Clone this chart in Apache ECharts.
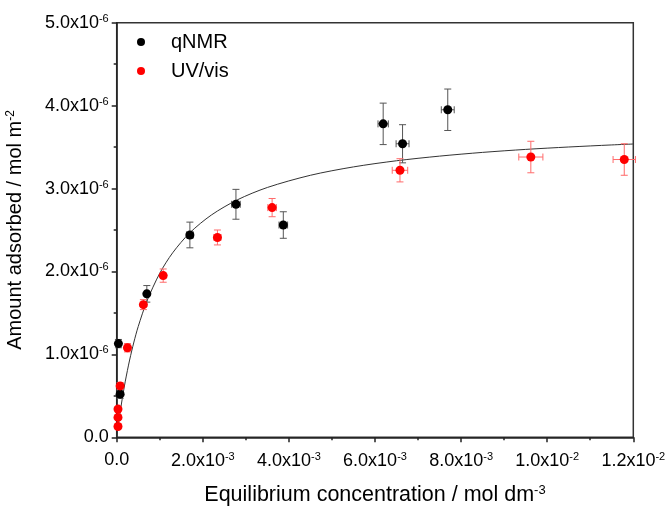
<!DOCTYPE html>
<html>
<head>
<meta charset="utf-8">
<title>Adsorption isotherm</title>
<script src="https://cdn.jsdelivr.net/npm/echarts@6/dist/echarts.min.js"></script>
<style>
  html, body { margin: 0; padding: 0; background: #fff; }
  #chart { width: 665px; height: 506px; }
</style>
</head>
<body>
<div id="chart"></div>
<script>
// x in units of 1e-3 mol dm^-3, y in units of 1e-6 mol m^-2
const nmrX = [0.04, 0.08, 0.70, 1.70, 2.77, 3.87, 6.19, 6.64, 7.69]
const nmrY = [1.13, 0.52, 1.73, 2.44, 2.81, 2.56, 3.78, 3.54, 3.95]
const nmrXErr = [0.02, 0.02, 0.05, 0.08, 0.10, 0.10, 0.12, 0.15, 0.15]
const nmrYErr = [0.05, 0.05, 0.10, 0.155, 0.18, 0.16, 0.25, 0.23, 0.25]

const uvX = [0.03, 0.03, 0.03, 0.08, 0.25, 0.62, 1.08, 2.34, 3.61, 6.58, 9.62, 11.79]
const uvY = [0.13, 0.24, 0.34, 0.62, 1.08, 1.60, 1.95, 2.41, 2.77, 3.22, 3.38, 3.35]
const uvXErr = [0, 0, 0, 0, 0.02, 0.05, 0.06, 0.08, 0.10, 0.18, 0.28, 0.26]
const uvYErr = [0.02, 0.02, 0.03, 0.04, 0.05, 0.06, 0.08, 0.09, 0.11, 0.14, 0.19, 0.19]

// fitted curve
const fitX = [0, 0.02, 0.05, 0.1, 0.15, 0.2, 0.3, 0.4, 0.5, 0.7, 1.0, 1.3, 1.7, 2.2, 2.8, 3.5, 4.5, 5.5, 6.5, 7.5, 8.5, 9.5, 10.5, 11.5, 12]
const fitY = [0, 0.081, 0.195, 0.371, 0.531, 0.677, 0.932, 1.149, 1.336, 1.640, 1.978, 2.225, 2.467, 2.681, 2.863, 3.013, 3.160, 3.261, 3.335, 3.391, 3.436, 3.472, 3.501, 3.526, 3.537]

const seriesNames = ['qNMR', 'UV/vis']

const font = 'Liberation Sans, Arial, sans-serif'
const rich = {
  m: { fontSize: 18, fontFamily: font, color: '#000' },
  e: { fontSize: 11, fontFamily: font, color: '#000', padding: [0, 0, 8, 0] }
}
const yTitleRich = {
  t: { fontSize: 20, fontFamily: font, color: '#000' },
  s: { fontSize: 12, fontFamily: font, color: '#000', padding: [0, 0, 9, 0] }
}
const xTitleRich = {
  t: { fontSize: 21.5, fontFamily: font, color: '#000' },
  s: { fontSize: 13, fontFamily: font, color: '#000', padding: [0, 0, 9, 0] }
}

const zip = (xs, ys) => xs.map((x, i) => [x, ys[i]])
const errData = (xs, ys, xe, ye) => xs.map((x, i) => [x, ys[i], xe[i], ye[i]])

const errorBars = (color) => (params, api) => {
  const x = api.value(0), y = api.value(1), xe = api.value(2), ye = api.value(3)
  const cap = 3.5
  const style = { stroke: color, lineWidth: 1 }
  const children = []
  if (ye > 0) {
    const top = api.coord([x, y + ye]), bot = api.coord([x, y - ye])
    children.push(
      { type: 'line', shape: { x1: top[0], y1: top[1], x2: bot[0], y2: bot[1] }, style },
      { type: 'line', shape: { x1: top[0] - cap, y1: top[1], x2: top[0] + cap, y2: top[1] }, style },
      { type: 'line', shape: { x1: bot[0] - cap, y1: bot[1], x2: bot[0] + cap, y2: bot[1] }, style }
    )
  }
  if (xe > 0) {
    const l = api.coord([x - xe, y]), r = api.coord([x + xe, y])
    children.push(
      { type: 'line', shape: { x1: l[0], y1: l[1], x2: r[0], y2: r[1] }, style },
      { type: 'line', shape: { x1: l[0], y1: l[1] - cap, x2: l[0], y2: l[1] + cap }, style },
      { type: 'line', shape: { x1: r[0], y1: r[1] - cap, x2: r[0], y2: r[1] + cap }, style }
    )
  }
  return { type: 'group', children }
}

const xLabel = (v) => {
  if (v === 0) return '{m|0.0}'
  if (v < 10) return '{m|' + v.toFixed(1) + 'x10}{e|-3}'
  return '{m|' + (v / 10).toFixed(1) + 'x10}{e|-2}'
}
const yLabel = (v) => v === 0 ? '{m|0.0}' : '{m|' + v.toFixed(1) + 'x10}{e|-6}'

const axisCommon = {
  axisLine: { show: true, onZero: false, lineStyle: { color: '#222', width: 1.5 } },
  axisTick: { show: true, inside: false, length: 5, lineStyle: { color: '#222', width: 1.5 } },
  minorTick: { show: true, splitNumber: 2, length: 3, lineStyle: { color: '#222', width: 1.5 } },
  splitLine: { show: false },
  minorSplitLine: { show: false }
}

const chart = echarts.init(document.getElementById('chart'))

const option = {
  backgroundColor: '#fff',
  animation: false,
  grid: {
    left: 116.7, right: 31.7, top: 22.7, bottom: 68.7,
    outerBoundsMode: 'none',
    show: true, borderColor: '#333', borderWidth: 1.5
  },
  legend: {
    data: seriesNames.map(n => ({ name: n, icon: 'circle' })),
    orient: 'vertical',
    left: 137,
    top: 32,
    padding: 0,
    itemWidth: 50,
    itemHeight: 8,
    itemGap: 9,
    textStyle: { fontSize: 20, fontFamily: font, color: '#000' }
  },
  xAxis: {
    type: 'value',
    min: 0,
    max: 12,
    interval: 2,
    ...axisCommon,
    axisLabel: { formatter: xLabel, rich, margin: 14 },
    name: '{t|Equilibrium concentration / mol dm}{s|-3}',
    nameLocation: 'middle',
    nameGap: 47,
    nameTextStyle: { rich: xTitleRich }
  },
  yAxis: {
    type: 'value',
    min: 0,
    max: 5,
    interval: 1,
    ...axisCommon,
    axisLabel: { formatter: yLabel, rich, margin: 8 },
    name: '{t|Amount adsorbed / mol m}{s|-2}',
    nameLocation: 'middle',
    nameGap: 91,
    nameRotate: 90,
    nameTextStyle: { rich: yTitleRich }
  },
  series: [
    {
      name: 'fit',
      type: 'line',
      data: zip(fitX, fitY),
      showSymbol: false,
      smooth: 0.3,
      lineStyle: { color: '#333', width: 1 },
      z: 2
    },
    {
      name: 'qNMR err',
      type: 'custom',
      renderItem: errorBars('#555'),
      data: errData(nmrX, nmrY, nmrXErr, nmrYErr),
      z: 3
    },
    {
      name: 'UV/vis err',
      type: 'custom',
      renderItem: errorBars('#ff6a6a'),
      data: errData(uvX, uvY, uvXErr, uvYErr),
      z: 3
    },
    {
      name: seriesNames[0],
      type: 'scatter',
      data: zip(nmrX, nmrY),
      symbolSize: 9,
      itemStyle: { color: '#000', opacity: 1 },
      z: 4
    },
    {
      name: seriesNames[1],
      type: 'scatter',
      data: zip(uvX, uvY),
      symbolSize: 9,
      itemStyle: { color: '#ff0000', opacity: 1 },
      z: 5
    }
  ]
}

chart.setOption(option)
</script>
</body>
</html>
